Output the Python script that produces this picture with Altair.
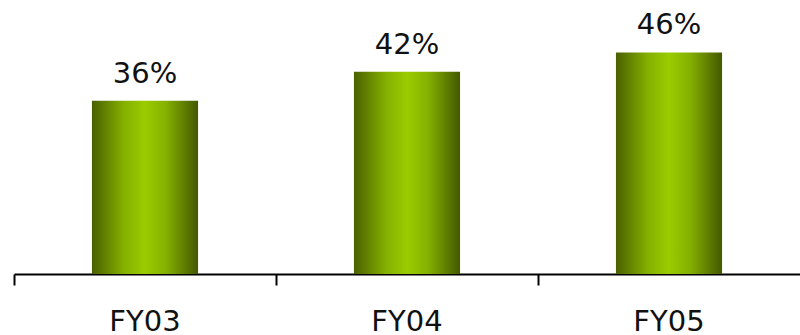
import altair as alt
import pandas as pd

years = ["FY03", "FY04", "FY05"]
values = [36, 42, 46]
labels = ["36%", "42%", "46%"]

df = pd.DataFrame({"year": years, "value": values, "label": labels})

FONT = "DejaVu Sans"

grad = alt.LinearGradient(
    gradient="linear",
    x1=0, x2=1, y1=0, y2=0,
    stops=[
        alt.GradientStop(color="#4a6000", offset=0),
        alt.GradientStop(color="#84b000", offset=0.3),
        alt.GradientStop(color="#9acc00", offset=0.5),
        alt.GradientStop(color="#84b000", offset=0.7),
        alt.GradientStop(color="#445800", offset=1),
    ],
)

x = alt.X(
    "year:N",
    sort=years,
    title=None,
    scale=alt.Scale(paddingInner=0, paddingOuter=0),
    axis=alt.Axis(
        bandPosition=0,
        domainColor="#000000",
        domainWidth=2,
        tickColor="#000000",
        tickWidth=2,
        tickSize=11,
        labelAngle=0,
        labelFont=FONT,
        labelFontSize=29,
        labelColor="#111111",
        labelPadding=22,
        labelAlign="center",
        labelFlush=False,
        grid=False,
    ),
)
y = alt.Y(
    "value:Q",
    title=None,
    scale=alt.Scale(domain=[0, 56.9], nice=False, zero=True),
    axis=None,
)

bars = alt.Chart(df).mark_bar(
    width=alt.RelativeBandSize(0.405), fill=grad
).encode(x=x, y=y)

text = alt.Chart(df).mark_text(
    font=FONT, fontSize=29, color="#111111", baseline="alphabetic", dy=-18
).encode(x=x, y=y, text="label:N")

chart = (
    alt.layer(bars, text)
    .properties(width=786, height=274, padding={"left": 14, "top": 0, "right": 0, "bottom": 61},
                autosize=alt.AutoSizeParams(type="none"), background="white")
    .configure_view(stroke=None, strokeWidth=0)
)

chart.save("out.html", embed_options={"renderer": "svg", "actions": False})
